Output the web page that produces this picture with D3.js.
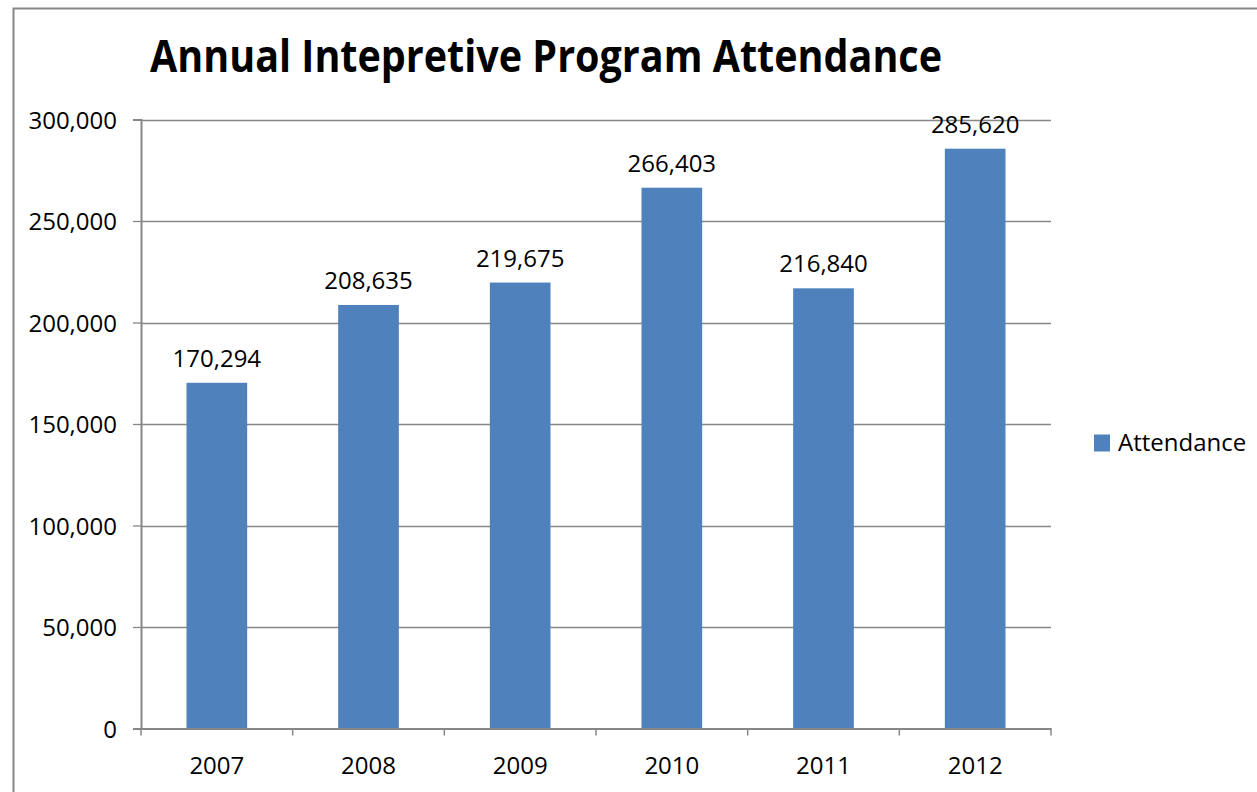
<!DOCTYPE html>
<html>
<head>
<meta charset="utf-8">
<script src="https://cdn.jsdelivr.net/npm/d3@7"></script>
<style>
  html, body { margin: 0; padding: 0; background: #fff; }
  svg { display: block; }
  text { font-family: "Open Sans", "DejaVu Sans", sans-serif; fill: #000; }
</style>
</head>
<body>
<svg id="chart" width="1257" height="792"></svg>
<script>
const title = "Annual Intepretive Program Attendance";
const categories = ["2007", "2008", "2009", "2010", "2011", "2012"];
const attendance = [170294, 208635, 219675, 266403, 216840, 285620];
const yTicks = [0, 50000, 100000, 150000, 200000, 250000, 300000];
const seriesName = "Attendance";

const svg = d3.select("#chart");
const W = 1257, H = 792;
const plot = { left: 141, right: 1051, top: 119.5, bottom: 728.5 };
const gridColor = "#878787";
const barColor = "#4F81BD";
const fs = 24;

// outer chart border
svg.append("rect")
  .attr("x", 13.5).attr("y", 8.5)
  .attr("width", W + 10).attr("height", H + 10)
  .attr("fill", "none").attr("stroke", "#868686").attr("stroke-width", 2);

const x = d3.scaleBand().domain(categories).range([plot.left, plot.right]).paddingInner(0).paddingOuter(0);
const y = d3.scaleLinear().domain([0, 300000]).range([plot.bottom, plot.top]);
const fmt = d3.format(",");

// gridlines
svg.append("g").selectAll("line").data(yTicks.filter(d => d > 0)).join("line")
  .attr("x1", plot.left).attr("x2", plot.right)
  .attr("y1", d => Math.round(y(d)) + 0.5).attr("y2", d => Math.round(y(d)) + 0.5)
  .attr("stroke", gridColor).attr("stroke-width", 1.3);

// y axis
const yAxis = d3.axisLeft(y).tickValues(yTicks).tickFormat(fmt).tickSize(8).tickPadding(16);
const gy = svg.append("g").attr("transform", `translate(${plot.left},0)`).call(yAxis);
gy.select(".domain").attr("stroke", gridColor).attr("stroke-width", 2);
gy.selectAll(".tick line").attr("stroke", gridColor).attr("stroke-width", 1.3);
gy.selectAll(".tick text").attr("font-size", fs).attr("font-family", "Open Sans").attr("fill", "#000").attr("dy", "0.36em");

// bars
const barW = x.bandwidth() / 2.5;
svg.append("g").selectAll("rect").data(attendance).join("rect")
  .attr("x", (d, i) => x(categories[i]) + (x.bandwidth() - barW) / 2)
  .attr("y", d => y(d))
  .attr("width", barW)
  .attr("height", d => y(0) - y(d))
  .attr("fill", barColor);

// x axis
const xAxis = d3.axisBottom(x).tickSize(0).tickPadding(28);
const gx = svg.append("g").attr("transform", `translate(0,${plot.bottom})`).call(xAxis);
gx.select(".domain").attr("stroke", gridColor).attr("stroke-width", 2);
gx.selectAll(".tick text").attr("font-size", fs).attr("font-family", "Open Sans").attr("fill", "#000");
// category boundary ticks
const bounds = categories.map(c => x(c)).concat([plot.right]);
svg.append("g").selectAll("line").data(bounds).join("line")
  .attr("x1", d => d).attr("x2", d => d)
  .attr("y1", plot.bottom).attr("y2", plot.bottom + 7)
  .attr("stroke", gridColor).attr("stroke-width", 1.5);

// data labels
svg.append("g").selectAll("text").data(attendance).join("text")
  .attr("x", (d, i) => x(categories[i]) + x.bandwidth() / 2)
  .attr("y", d => y(d) - 16)
  .attr("text-anchor", "middle")
  .attr("font-size", fs)
  .text(d => fmt(d));

// title
svg.append("text")
  .attr("x", 150).attr("y", 72)
  .attr("font-size", 44).attr("font-weight", "bold")
  .attr("textLength", 792).attr("lengthAdjust", "spacingAndGlyphs")
  .text(title);

// legend
svg.append("rect").attr("x", 1094).attr("y", 434.5).attr("width", 16).attr("height", 17).attr("fill", barColor);
svg.append("text").attr("x", 1118).attr("y", 451).attr("font-size", fs).text(seriesName);
</script>
</body>
</html>
